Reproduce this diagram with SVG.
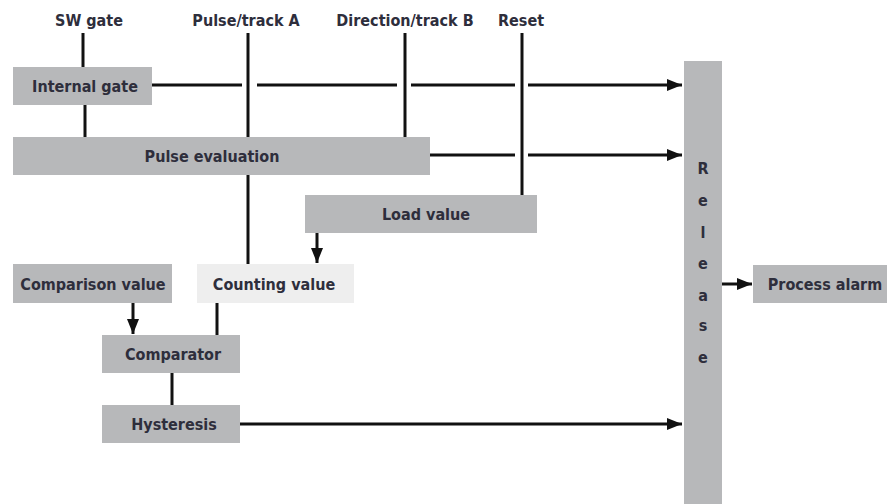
<svg xmlns="http://www.w3.org/2000/svg" width="887" height="504" viewBox="0 0 887 504">
<defs>
<style>
.box{fill:#b7b8ba}
.light{fill:#eeeeee}
.t{font-family:"DejaVu Sans Condensed","DejaVu Sans",sans-serif;font-stretch:condensed;font-weight:bold;font-size:16px;fill:#2e2e3c;text-anchor:middle}
.ln{stroke:#111;stroke-width:3;fill:none}
.ar{stroke:#111;stroke-width:3;fill:none;marker-end:url(#ah)}
</style>
<marker id="ah" viewBox="0 0 10 10" refX="10" refY="5" markerWidth="5" markerHeight="5" markerUnits="strokeWidth" orient="auto">
<path d="M0,1 L10,5 L0,9 Z" fill="#111"/>
</marker>
</defs>
<rect width="887" height="504" fill="#fff"/>
<g id="labels">
<text class="t" x="89" y="26">SW gate</text>
<text class="t" x="246" y="26">Pulse/track A</text>
<text class="t" x="405" y="26">Direction/track B</text>
<text class="t" x="521" y="26">Reset</text>
</g>
<g id="internal-gate"><rect class="box" x="13" y="67" width="139" height="38"/><text class="t" x="85" y="92">Internal gate</text></g>
<g id="pulse-evaluation"><rect class="box" x="13" y="137" width="417" height="38"/><text class="t" x="212" y="162">Pulse evaluation</text></g>
<g id="load-value"><rect class="box" x="305" y="195" width="232" height="38"/><text class="t" x="426" y="220">Load value</text></g>
<g id="comparison-value"><rect class="box" x="13" y="264" width="159" height="39"/><text class="t" x="93" y="290">Comparison value</text></g>
<g id="counting-value"><rect class="light" x="197" y="264" width="157" height="39"/><text class="t" x="274" y="290">Counting value</text></g>
<g id="comparator"><rect class="box" x="102" y="335" width="138" height="38"/><text class="t" x="173" y="360">Comparator</text></g>
<g id="hysteresis"><rect class="box" x="102" y="405" width="138" height="38"/><text class="t" x="174" y="430">Hysteresis</text></g>
<g id="release"><rect class="box" x="684" y="61" width="38" height="443"/>
<text class="t" x="703" y="174">R</text>
<text class="t" x="703" y="206">e</text>
<text class="t" x="703" y="238">l</text>
<text class="t" x="703" y="269">e</text>
<text class="t" x="703" y="301">a</text>
<text class="t" x="703" y="331">s</text>
<text class="t" x="703" y="363">e</text>
</g>
<g id="process-alarm"><rect class="box" x="753" y="265" width="140" height="38"/><text class="t" x="825" y="290">Process alarm</text></g>
<g id="connectors">
<line class="ln" x1="83" y1="33" x2="83" y2="67"/>
<line class="ln" x1="85" y1="105" x2="85" y2="137"/>
<line class="ln" x1="248" y1="33" x2="248" y2="137"/>
<line class="ln" x1="248" y1="175" x2="248" y2="264"/>
<line class="ln" x1="405" y1="33" x2="405" y2="137"/>
<line class="ln" x1="522" y1="33" x2="522" y2="195"/>
<line class="ln" x1="152" y1="85" x2="242" y2="85"/>
<line class="ln" x1="257" y1="85" x2="397" y2="85"/>
<line class="ln" x1="411" y1="85" x2="515" y2="85"/>
<line class="ar" x1="528" y1="85" x2="682" y2="85"/>
<line class="ln" x1="430" y1="155" x2="515" y2="155"/>
<line class="ar" x1="528" y1="155" x2="682" y2="155"/>
<line class="ar" x1="317" y1="233" x2="317" y2="263"/>
<line class="ar" x1="133" y1="303" x2="133" y2="334"/>
<line class="ln" x1="217" y1="303" x2="217" y2="335"/>
<line class="ln" x1="172" y1="373" x2="172" y2="405"/>
<line class="ar" x1="240" y1="424" x2="682" y2="424"/>
<line class="ar" x1="722" y1="284" x2="752" y2="284"/>
</g>
</svg>
